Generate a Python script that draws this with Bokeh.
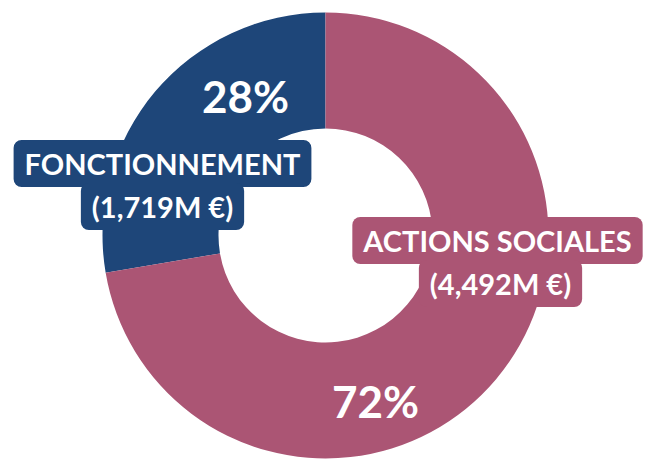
import numpy as np
from bokeh.plotting import figure
from bokeh.models import Range1d, ColumnDataSource
from bokeh.core.properties import value
from bokeh.embed import file_html
from bokeh.resources import INLINE

categories = ["FONCTIONNEMENT", "ACTIONS SOCIALES"]
amounts = [1.719, 4.492]          # millions €
amount_labels = ["(1,719M €)", "(4,492M €)"]
colors = ["#1e4679", "#ab5574"]

W, H = 652, 461
p = figure(width=W, height=H, output_backend="svg", toolbar_location=None,
           x_range=Range1d(0, W), y_range=Range1d(0, H), min_border=0)
p.axis.visible = False
p.grid.visible = False
p.outline_line_color = None
p.background_fill_color = "white"
p.border_fill_color = "white"

cx, cy = 325, 226
R_out, R_in = 223, 107

total = sum(amounts)
fracs = [a / total for a in amounts]
angles = np.cumsum([0] + [f * 2 * np.pi for f in fracs])
start = np.pi / 2 + angles[:-1]
end = np.pi / 2 + angles[1:]

src = ColumnDataSource(dict(start=start, end=end, color=colors))
p.annular_wedge(x=cx, y=cy, inner_radius=R_in, outer_radius=R_out,
                start_angle="start", end_angle="end", color="color",
                line_color=None, source=src)

pcts = ["%d%%" % round(f * 100) for f in fracs]
pct_x = [245, 375]
pct_y = [366, 61]
p.text(x=pct_x, y=pct_y, text=pcts, text_color="white",
       text_font=value("Lato"), text_font_style="bold", text_font_size="44px",
       text_align="center", text_baseline="middle")

name_x = [162, 497]
name_y = [298, 221]
amt_x = [162, 500]
amt_y = [255, 178]
pad = dict(left=11, right=11, top=6, bottom=6)
p.text(x=name_x, y=name_y, text=categories, text_color="white",
       text_font=value("Lato"), text_font_style="bold", text_font_size="29px",
       text_align="center", text_baseline="middle",
       background_fill_color=colors, padding=pad, border_radius=8)
p.text(x=amt_x, y=amt_y, text=amount_labels, text_color="white",
       text_font=value("Lato"), text_font_style="bold", text_font_size="29px",
       text_align="center", text_baseline="middle",
       background_fill_color=colors, padding=pad, border_radius=8)

open("out.html", "w").write(file_html(p, INLINE))
